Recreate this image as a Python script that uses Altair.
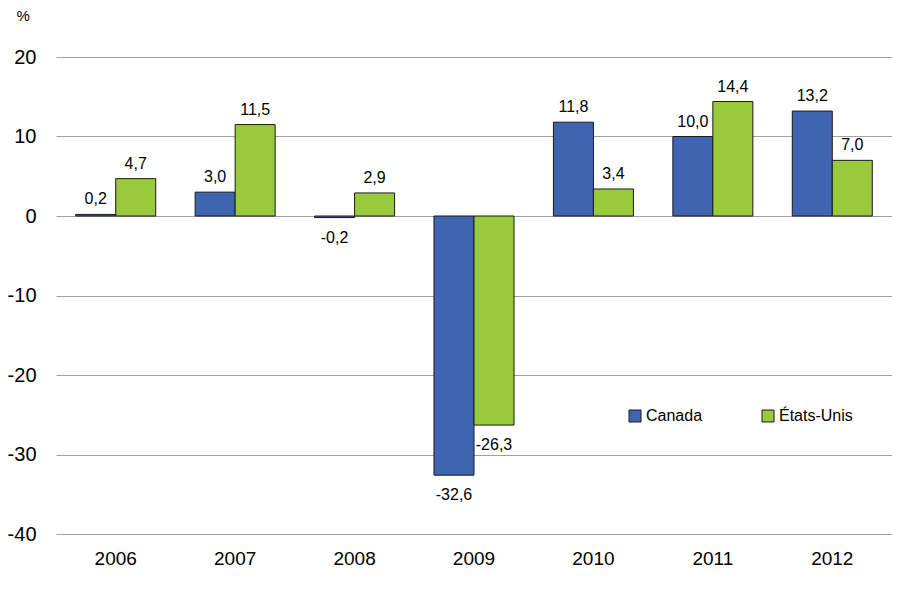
import altair as alt
import pandas as pd

years = ["2006", "2007", "2008", "2009", "2010", "2011", "2012"]
canada = [0.2, 3.0, -0.2, -32.6, 11.8, 10.0, 13.2]
etats_unis = [4.7, 11.5, 2.9, -26.3, 3.4, 14.4, 7.0]
series = ["Canada", "États-Unis"]
colors = ["#3F64B0", "#99CA3C"]
y_ticks = [-40, -30, -20, -10, 0, 10, 20]

rows = []
for y, c, u in zip(years, canada, etats_unis):
    rows.append({"annee": y, "serie": series[0], "valeur": c})
    rows.append({"annee": y, "serie": series[1], "valeur": u})
df = pd.DataFrame(rows)
df["etiquette"] = df["valeur"].map(lambda v: f"{v:.1f}".replace(".", ","))

FONT = "Liberation Sans"

x_enc = alt.X("annee:N", sort=years, title=None,
              scale=alt.Scale(paddingInner=0.33, paddingOuter=0.165),
              axis=alt.Axis(labelAngle=0, labelFontSize=19, labelFont=FONT,
                            labelColor="#000000", ticks=False, domain=False,
                            labelPadding=15, grid=False))
xo_enc = alt.XOffset("serie:N", sort=series,
                     scale=alt.Scale(domain=series, paddingInner=0, paddingOuter=0))
y_enc = alt.Y("valeur:Q", title="%",
              scale=alt.Scale(domain=[-40, 20], nice=False, zero=False),
              axis=alt.Axis(values=y_ticks, labelExpr="'' + datum.value",
                            labelFontSize=20, labelFont=FONT, labelColor="#000000",
                            labelPadding=20, ticks=False, domain=False,
                            grid=True, gridColor="#A0A0A0", gridWidth=1,
                            titleAngle=0, titleX=-40, titleY=-37,
                            titleAlign="left", titleBaseline="alphabetic",
                            titleFontSize=15, titleFont=FONT,
                            titleFontWeight="normal", titleColor="#000000",
                            minExtent=48, maxExtent=48))

base = alt.Chart(df)

bars = base.mark_bar(stroke="#1A1A1A", strokeWidth=1).encode(
    x=x_enc,
    xOffset=xo_enc,
    y=y_enc,
    color=alt.Color("serie:N", sort=series,
                    scale=alt.Scale(domain=series, range=colors),
                    legend=alt.Legend(title=None, orient="none",
                                      direction="horizontal",
                                      legendX=571, legendY=351,
                                      symbolType="square", symbolSize=144,
                                      symbolStrokeColor="#1A1A1A",
                                      symbolStrokeWidth=1,
                                      symbolOpacity=1,
                                      labelFontSize=16, labelFont=FONT,
                                      labelColor="#000000", labelOffset=3,
                                      columnPadding=57, padding=0)),
)

pos_labels = base.transform_filter("datum.valeur >= 0").mark_text(
    dy=-10, baseline="alphabetic", fontSize=16, font=FONT, color="#000000"
).encode(x=alt.X("annee:N", sort=years), xOffset=xo_enc,
         y=alt.Y("valeur:Q"), text="etiquette:N")

neg_labels = base.transform_filter("datum.valeur < 0").mark_text(
    dy=25, baseline="alphabetic", fontSize=16, font=FONT, color="#000000"
).encode(x=alt.X("annee:N", sort=years), xOffset=xo_enc,
         y=alt.Y("valeur:Q"), text="etiquette:N")

chart = alt.layer(bars, pos_labels, neg_labels).properties(
    width=836, height=477,
    autosize=alt.AutoSizeParams(type="none"),
    padding={"left": 48, "top": 49, "right": 0, "bottom": 50},
).configure(background="#FFFFFF").configure_view(stroke=None)

chart.save("out.html", embed_options={"renderer": "svg", "actions": False})
